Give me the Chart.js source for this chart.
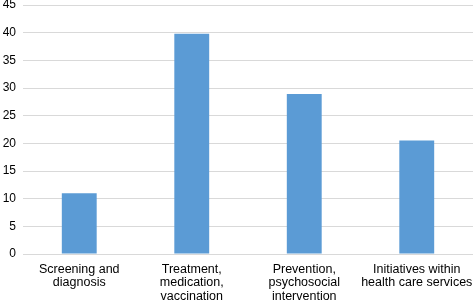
<!DOCTYPE html>
<html>
<head>
<meta charset="utf-8">
<script src="https://cdn.jsdelivr.net/npm/chart.js@4/dist/chart.umd.min.js"></script>
<style>
  html, body { margin: 0; padding: 0; background: #fff; }
  #wrap { width: 473px; height: 300px; }
</style>
</head>
<body>
<div id="wrap"><canvas id="areas-chart"></canvas></div>
<script>
const categories = [
  ["Screening and", "diagnosis"],
  ["Treatment,", "medication,", "vaccination"],
  ["Prevention,", "psychosocial", "intervention"],
  ["Initiatives within", "health care services"],
];
const counts = [11, 39.8, 28.9, 20.5];
const yTicks = [0, 5, 10, 15, 20, 25, 30, 35, 40, 45];

const ctx = document.getElementById("areas-chart").getContext("2d");

new Chart(ctx, {
  type: "bar",
  data: {
    labels: categories,
    datasets: [
      {
        data: counts,
        backgroundColor: "#5B9BD5",
        barPercentage: 0.62,
        categoryPercentage: 0.5,
      },
    ],
  },
  options: {
    responsive: true,
    maintainAspectRatio: false,
    animation: false,
    layout: { padding: { top: 5, right: 0, left: 0, bottom: 0 } },
    plugins: {
      legend: { display: false },
      tooltip: { enabled: false },
    },
    scales: {
      x: {
        grid: { display: false },
        border: { display: false },
        ticks: {
          color: "#000",
          maxRotation: 0,
          autoSkip: false,
          padding: 1,
          font: { family: "Liberation Sans, Arial, sans-serif", size: 12.5, lineHeight: 1.065 },
        },
        afterFit: (scale) => {
          scale.height = 46;
          scale.paddingLeft = 0;
          scale.paddingRight = 0;
        },
      },
      y: {
        min: 0,
        max: 45,
        afterBuildTicks: (scale) => { scale.ticks = yTicks.map((v) => ({ value: v })); },
        grid: { color: "#d9d9d9", drawTicks: false },
        border: { display: false },
        ticks: {
          color: "#000",
          padding: 7,
          font: { family: "Liberation Sans, Arial, sans-serif", size: 12 },
        },
        afterFit: (scale) => {
          scale.width = 23;
          scale.paddingTop = 0;
          scale.paddingBottom = 0;
        },
      },
    },
  },
});
</script>
</body>
</html>
